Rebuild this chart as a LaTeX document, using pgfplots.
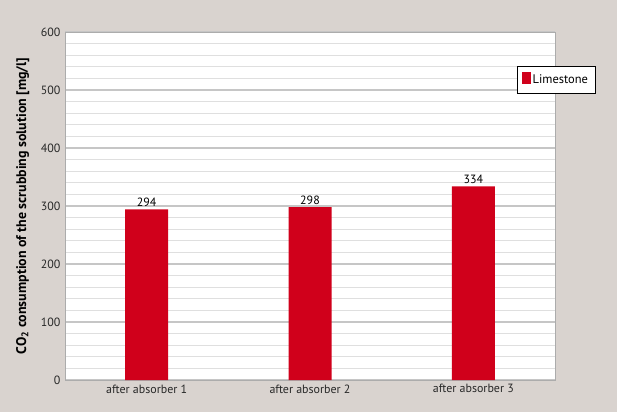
\documentclass[border=0pt]{standalone}
\usepackage{pgfplots}
\pgfplotsset{compat=1.18}
\usepackage{fontspec}
\setmainfont{PT Sans}
\definecolor{bg}{RGB}{217,211,207}
\definecolor{barred}{RGB}{208,0,27}
\definecolor{txt}{RGB}{40,40,40}
\begin{document}
\begin{tikzpicture}
\fill[bg] (0,0) rectangle (617bp,412bp);
\begin{axis}[
  at={(65bp,32bp)}, anchor=south west,
  scale only axis, width=490bp, height=348bp,
  xmin=-0.5, xmax=2.5, ymin=0, ymax=600,
  xtick=data,
  xticklabels={after absorber 1, after absorber 2, after absorber 3},
  ytick={0,100,...,600},
  minor y tick num=4,
  ymajorgrids, yminorgrids,
  major grid style={draw=gray!45, line width=1.2pt},
  minor grid style={draw=gray!25, line width=1.1pt},
  axis background/.style={fill=white},
  axis line style={draw=gray!65, line width=0.9pt},
  major tick length=0pt, minor tick length=0pt,
  tick style={draw=none},
  ticklabel style={font=\fontsize{12}{14}\selectfont, text=txt},
  /pgf/number format/assume math mode=true,
  ylabel={\textbf{CO\textsubscript{2} consumption of the scrubbing solution [mg/l]}},
  every axis y label/.style={at={(rel axis cs:-0.086,0.5)}, rotate=90, anchor=center,
    font=\fontsize{14}{16}\selectfont, text=black},
  yticklabel style={xshift=-1bp},
  xticklabel style={yshift=-1bp},
  ybar, bar width=43bp,
  nodes near coords,
  every node near coord/.append style={font=\fontsize{12}{14}\selectfont, text=black, yshift=-1bp},
  legend style={at={(0.922,0.902)}, anchor=north west, draw=black, line width=0.8pt,
    font=\fontsize{12.5}{14}\selectfont, inner xsep=5pt, inner ysep=6pt, fill=white},
  legend image code/.code={\fill[barred] (0cm,-0.16cm) rectangle (0.3cm,0.26cm);},
  clip=false,
]
\addplot[fill=barred, draw=none] coordinates {(0,294) (1,298) (2,334)};
\addlegendentry{Limestone}
\end{axis}
\end{tikzpicture}
\end{document}
